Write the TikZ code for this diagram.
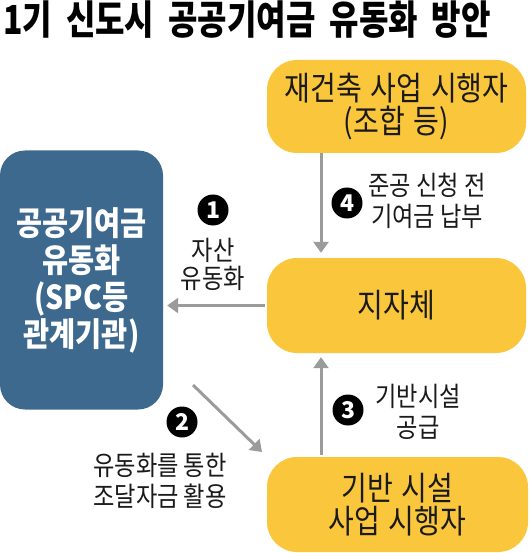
\documentclass[tikz,border=0pt]{standalone}
\usepackage{fontspec}
\usetikzlibrary{arrows.meta}
\newfontfamily\krtitle[FakeStretch=0.8]{Noto Sans CJK KR}
\newfontfamily\krbox[FakeStretch=0.85,WordSpace=1.4]{Noto Sans CJK KR}
\newfontfamily\krblue[FakeStretch=0.86]{Noto Sans CJK KR}
\newfontfamily\krlab[FakeStretch=0.86]{Noto Sans CJK KR}
\newfontfamily\krnum{Noto Sans CJK KR}
\definecolor{boxyellow}{RGB}{250,198,60}
\definecolor{boxblue}{RGB}{62,105,143}
\definecolor{arrgray}{RGB}{155,155,155}
\definecolor{txtdark}{RGB}{26,26,26}
\tikzset{
  ybox/.style={fill=boxyellow, rounded corners=30pt, minimum width=259pt, minimum height=95pt, inner sep=0pt, align=center, text=txtdark, font=\krbox\fontsize{33}{33}\selectfont},
  bbox/.style={fill=boxblue, rounded corners=25pt, minimum width=163pt, minimum height=259pt, inner sep=0pt, align=center, text=white, font=\krblue\bfseries\fontsize{33}{37}\selectfont},
  arr/.style={draw=arrgray, line width=3pt, -{Triangle[width=15pt,length=11pt]}},
  numc/.style={circle, fill=black, minimum size=31pt, inner sep=0pt, text=white, font=\krnum\bfseries\fontsize{23}{23}\selectfont},
  lab/.style={align=center, inner sep=0pt, text=txtdark, font=\krlab\fontsize{27}{31}\selectfont}
}
\begin{document}
\begin{tikzpicture}[x=1pt,y=-1pt]
\useasboundingbox (0,0) rectangle (530,553);
\node[anchor=west, inner sep=0pt, text=black, font=\krtitle\bfseries\fontsize{40}{40}\selectfont] (title) at (3,20) {1기\hspace{14pt}신도시\hspace{14pt}공공기여금\hspace{14pt}유동화\hspace{14pt}방안};
\node[ybox, minimum height=93pt] (top) at (396.5,106.5) {재건축 사업 시행자\\(조합 등)};
\node[ybox] (mid) at (396.5,305.5) {지자체};
\node[ybox, minimum width=261pt] (bot) at (397.5,504.5) {기반 시설\\사업 시행자};
\node[bbox] (spc) at (81.5,280) {공공기여금\\유동화\\(SPC등\\관계기관)};
\coordinate (a2s) at (193,385);
\coordinate (a2e) at (262,452);
\draw[arr, shorten <=2pt, shorten >=4pt] (mid.west) -- (mid.west -| spc.east);
\draw[arr, shorten >=5pt] ([xshift=-75.5pt]top.south) -- ([xshift=-75.5pt]top.south |- mid.north);
\draw[arr, shorten <=2pt, shorten >=4pt] ([xshift=-76.5pt]bot.north) -- ([xshift=-76.5pt]bot.north |- mid.south);
\draw[arr] (a2s) -- (a2e);
\node[numc] (n1) at (213,210) {1};
\node[numc] (n2) at (182,422) {2};
\node[numc] (n3) at (348,410) {3};
\node[numc] (n4) at (347,203) {4};
\node[lab, font=\krlab\fontsize{27}{28}\selectfont] (l1) at (213,264) {자산\\유동화};
\node[lab] (l2) at (160,481) {유동화를 통한\\조달자금 활용};
\node[lab] (l3) at (418,412) {기반시설\\공급};
\node[lab] (l4) at (427,201) {준공 신청 전\\기여금 납부};
\end{tikzpicture}
\end{document}
